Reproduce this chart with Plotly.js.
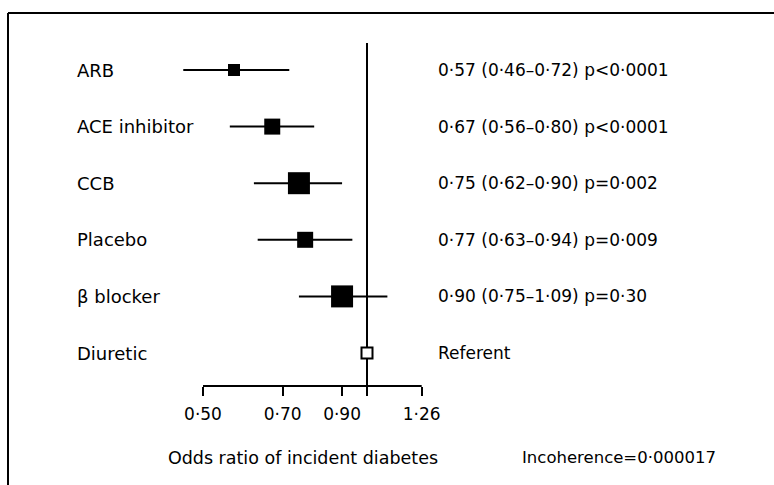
<!DOCTYPE html>
<html>
<head>
<meta charset="utf-8">
<script src="https://cdn.plot.ly/plotly-3.0.1.min.js"></script>
<style>html,body{margin:0;padding:0;background:#fff;}#chart{width:774px;height:485px;}</style>
</head>
<body>
<div id="chart"></div>
<script>
// Data (top to bottom in the picture)
const treatments = ['ARB', 'ACE inhibitor', 'CCB', 'Placebo', 'β blocker', 'Diuretic'];
const oddsRatio  = [0.57, 0.67, 0.75, 0.77, 0.90, 1.00];
const ciLower    = [0.46, 0.56, 0.62, 0.63, 0.75, 1.00];
const ciUpper    = [0.72, 0.80, 0.90, 0.94, 1.09, 1.00];
const resultText = [
  '0·57 (0·46–0·72) p&lt;0·0001',
  '0·67 (0·56–0·80) p&lt;0·0001',
  '0·75 (0·62–0·90) p=0·002',
  '0·77 (0·63–0·94) p=0·009',
  '0·90 (0·75–1·09) p=0·30',
  'Referent'
];
const markerSizes = [12, 16, 22, 16, 22, 11];
const tickVals  = [0.50, 0.70, 0.90, 1.00, 1.26];
const tickText  = ['0·50', '0·70', '0·90', '', '1·26'];
const xTitle = 'Odds ratio of incident diabetes';
const noteText = 'Incoherence=0·000017';

const W = 774, H = 485;
const FONT = 'DejaVu Sans, sans-serif';
const isRef = treatments.map((t, i) => i === treatments.length - 1);

const trace = {
  type: 'scatter',
  mode: 'markers',
  x: oddsRatio,
  y: treatments,
  cliponaxis: false,
  error_x: {
    type: 'data',
    symmetric: false,
    array: oddsRatio.map((v, i) => ciUpper[i] - v),
    arrayminus: oddsRatio.map((v, i) => v - ciLower[i]),
    color: '#000',
    thickness: 2,
    width: 0
  },
  marker: {
    symbol: 'square',
    size: markerSizes,
    opacity: 1,
    color: isRef.map(r => r ? '#ffffff' : '#000000'),
    line: { color: '#000000', width: isRef.map(r => r ? 2 : 0) }
  },
  opacity: 1,
  hoverinfo: 'skip',
  showlegend: false
};

// pixel helpers for layout placement
const px = v => v / W;
const py = v => 1 - v / H;

const annotations = [];
treatments.forEach((t, i) => {
  annotations.push({
    xref: 'paper', yref: 'y', x: px(75), y: t, xanchor: 'left', yanchor: 'middle',
    text: t, showarrow: false, font: { family: FONT, size: 18, color: '#000' }
  });
  annotations.push({
    xref: 'paper', yref: 'y', x: px(436), y: t, xanchor: 'left', yanchor: 'middle',
    text: resultText[i], showarrow: false, font: { family: FONT, size: 17, color: '#000' }
  });
});
annotations.push({
  xref: 'paper', yref: 'paper', x: px(520), y: py(457), xanchor: 'left', yanchor: 'middle',
  text: noteText, showarrow: false, font: { family: FONT, size: 16.5, color: '#000' }
});

const yOrder = treatments.slice().reverse(); // bottom to top
const layout = {
  width: W, height: H,
  margin: { l: 0, r: 0, t: 0, b: 0 },
  paper_bgcolor: '#fff', plot_bgcolor: '#fff',
  font: { family: FONT, color: '#000' },
  xaxis: {
    type: 'log',
    domain: [px(160), px(446)],
    range: [Math.log10(0.5) - 43 / 544.8, Math.log10(0.5) + 243 / 544.8],
    tickvals: tickVals, ticktext: tickText,
    ticks: 'outside', ticklen: 9, tickwidth: 2, tickcolor: '#000',
    ticklabelstandoff: 4,
    showline: false, showgrid: false, zeroline: false,
    tickfont: { family: FONT, size: 17, color: '#000' },
    title: { text: xTitle, font: { family: FONT, size: 17.5, color: '#000' }, standoff: 28 },
    fixedrange: true
  },
  yaxis: {
    type: 'category',
    categoryorder: 'array', categoryarray: yOrder,
    domain: [py(386), py(13)],
    range: [-(386 - 353) / 56.6, (353 - 13) / 56.6],
    showticklabels: false, ticks: '', showgrid: false, zeroline: false, showline: false,
    fixedrange: true
  },
  shapes: [
    // axis line from 0.50 to 1.26
    { type: 'line', xref: 'x', yref: 'paper', x0: tickVals[0], x1: tickVals[tickVals.length - 1],
      y0: py(386), y1: py(386), line: { color: '#000', width: 2 }, layer: 'below' },
    // reference line at OR = 1
    { type: 'line', xref: 'x', yref: 'paper', x0: 1, x1: 1, y0: py(386), y1: py(43),
      line: { color: '#000', width: 2 }, layer: 'below' },
    // frame: top and left
    { type: 'line', xref: 'paper', yref: 'paper', x0: px(8), x1: 1, y0: py(13), y1: py(13),
      line: { color: '#000', width: 2 } },
    { type: 'line', xref: 'paper', yref: 'paper', x0: px(8), x1: px(8), y0: py(13), y1: 0,
      line: { color: '#000', width: 2 } }
  ],
  annotations: annotations
};

Plotly.newPlot('chart', [trace], layout, { displayModeBar: false, staticPlot: true });
</script>
</body>
</html>
